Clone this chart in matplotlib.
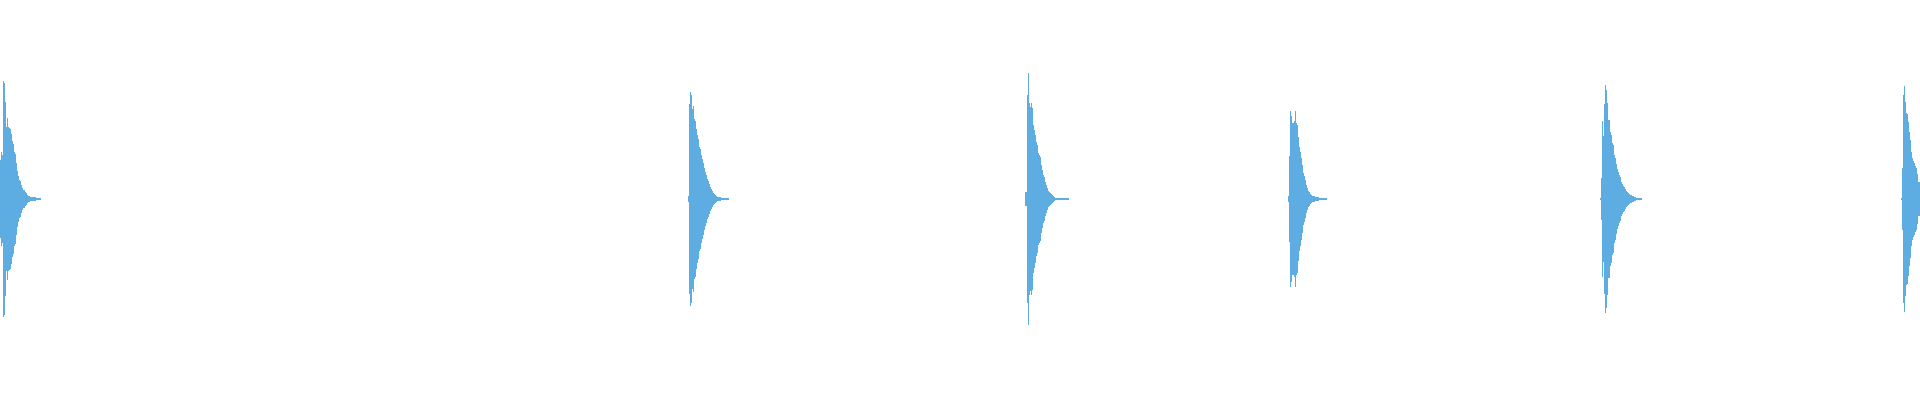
import numpy as np
import matplotlib
matplotlib.use("Agg")
import matplotlib.pyplot as plt

# waveform overview: one column per pixel, six drum hits
WAVE_COLOR = "#5DADE2"
N_COLUMNS = 1920

# column where each hit starts
onsets = [0, 688, 1025, 1288, 1600, 1901]

# peak level per column after the onset, in percent of full scale
hit1 = [19.5, 23.5, 22, 59, 58, 48.5, 36, 40.5, 36, 35.5, 35, 32.5, 29, 27.5, 23.5,
        22.5, 18, 14, 11.5, 9.5, 9, 7, 5.5, 4.5, 4.5, 3.5, 3, 2, 1.5, 1.5, 1, 1, 1,
        1, 1, 1, 0.3, 0.3, 0.3, 0.3, 0.3]
hit2 = [1.5, 47.5, 53.5, 52, 45, 46.5, 40, 39, 35, 32, 30, 26, 25, 22, 20, 18, 15.5,
        13.5, 12, 10, 9, 7.5, 6, 5, 4, 3, 2.5, 2, 1.5, 1, 1, 1, 1,
        0.3, 0.3, 0.3, 0.3, 0.3, 0.3, 0.3, 0.3]
hit3 = [3.5, 3.5, 52, 63, 48, 46, 48, 45.5, 37, 34.5, 32, 28.5, 27, 23, 22, 21, 17,
        14.5, 12, 11, 8.5, 7, 5.5, 4, 3.5, 3, 2.5, 2, 1.5, 1,
        0.3, 0.3, 0.3, 0.3, 0.3, 0.3, 0.3, 0.3, 0.3, 0.3, 0.3, 0.3, 0.3, 0.3]
hit4 = [1.5, 21.5, 44, 41.5, 38, 38, 39, 44, 38, 37, 31, 26, 23.5, 20.5, 17, 13, 11.5,
        9.5, 7, 5.5, 4, 3.5, 2.5, 2, 1.5, 1.5, 1.5, 1, 1, 1, 1,
        0.3, 0.3, 0.3, 0.3, 0.3, 0.3, 0.3, 0.3]
hit5 = [0.5, 10.5, 39, 31.5, 47.5, 57, 54.5, 48, 39.5, 39.5, 33.5, 32, 28, 27, 22,
        20.5, 17.5, 15, 13.5, 12, 11, 8.5, 7.5, 6.5, 6, 5, 4, 3.5, 3, 2.5, 2, 2, 1.5,
        1.5, 1, 1, 0.3, 0.3, 0.3, 0.3, 0.3, 0.3]
hit6 = [0.5, 15.5, 52, 56.5, 48.5, 43, 42.5, 38.5, 33.5, 29.5, 23.5, 20.5, 19, 18,
        16.5, 15.5, 12.5, 8.5, 8.5]

hits = [hit1, hit2, hit3, hit4, hit5, hit6]

fig = plt.figure(figsize=(19.2, 4), dpi=100)
ax = fig.add_axes([0, 0, 1, 1])

for start, levels in zip(onsets, hits):
    amp = np.array(levels) / 100.0
    cols = start + np.arange(len(amp))
    ax.bar(cols, 2 * amp, bottom=-amp, width=1.0, align="edge",
           color=WAVE_COLOR, linewidth=0, antialiased=False)

ax.set_xlim(0, N_COLUMNS)
ax.set_ylim(-1.005, 0.995)
ax.axis("off")

fig.savefig("out.png", dpi=100, facecolor="white")
